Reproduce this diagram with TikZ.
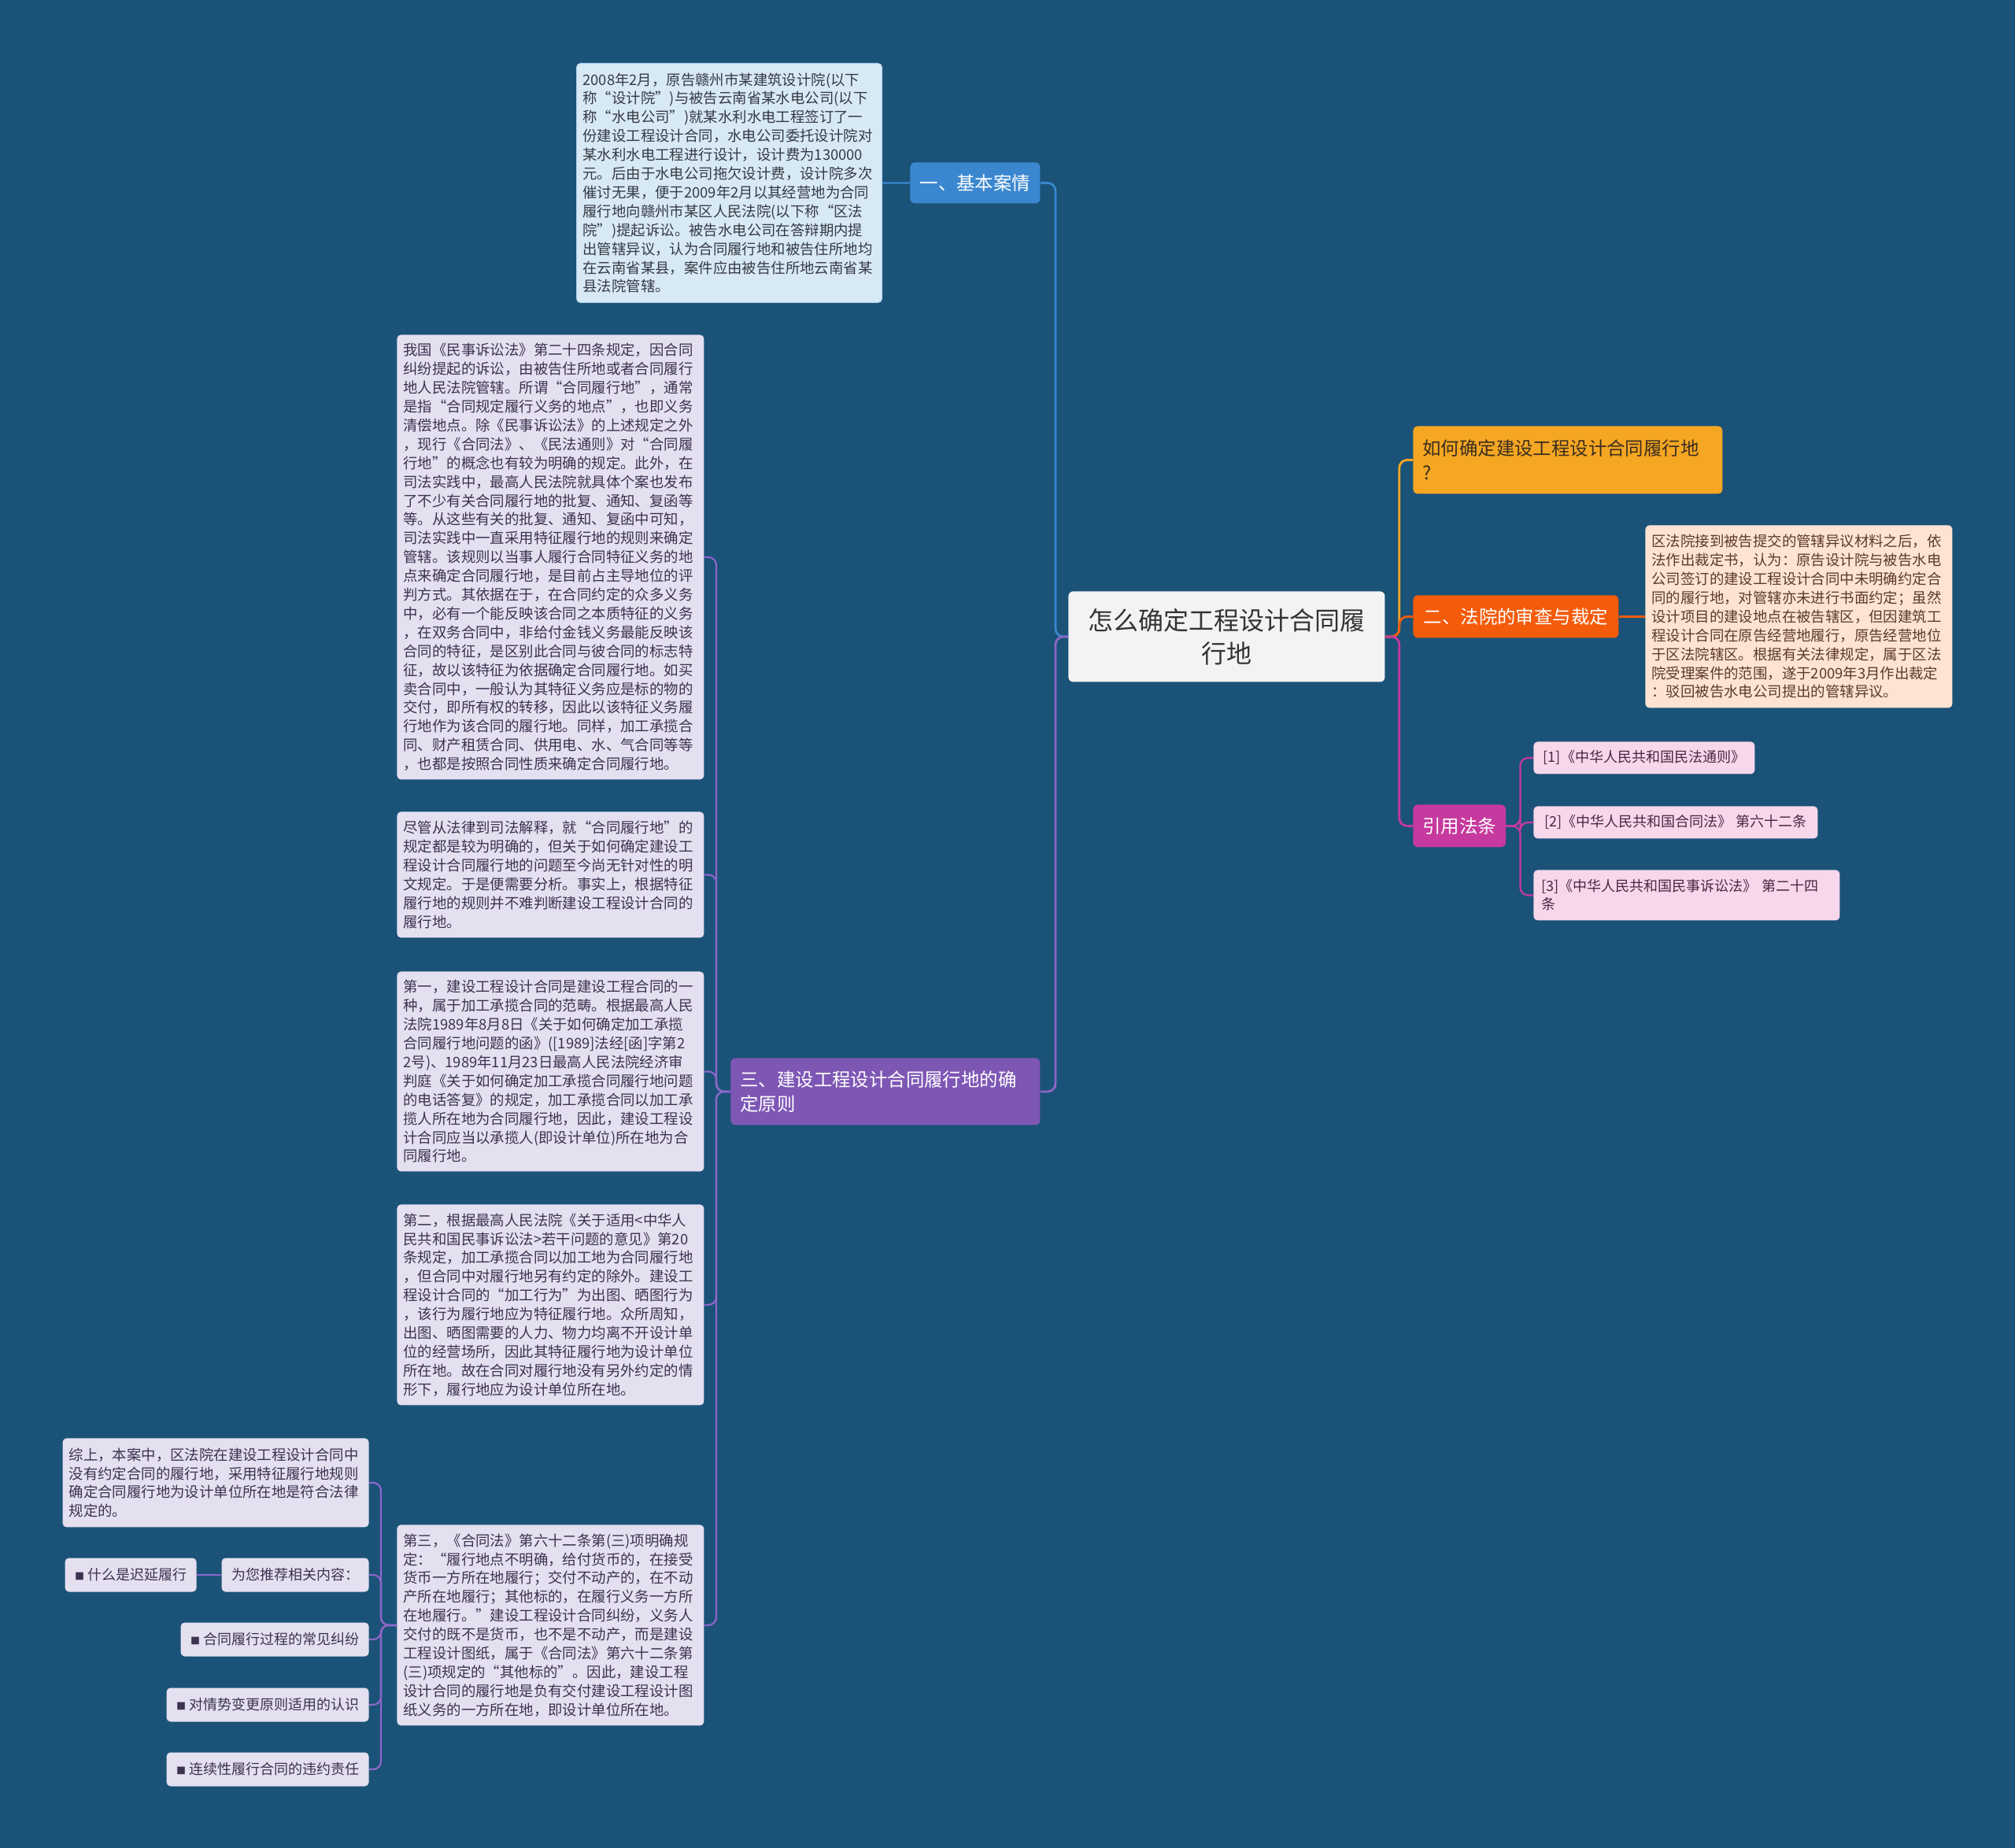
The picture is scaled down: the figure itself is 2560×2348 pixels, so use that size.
\documentclass[tikz,border=0pt]{standalone}
\usepackage{fontspec}
\setmainfont{Noto Sans CJK SC}
\usepackage{tikz}
\definecolor{bgblue}{RGB}{27,82,120}
\definecolor{casefill}{RGB}{216,233,246}
\definecolor{caseedge}{RGB}{169,205,235}
\definecolor{caseink}{RGB}{52,58,66}
\definecolor{bluebar}{RGB}{58,135,208}
\definecolor{rootfill}{RGB}{243,243,243}
\definecolor{rootink}{RGB}{51,51,51}
\definecolor{goldfill}{RGB}{245,166,35}
\definecolor{goldink}{RGB}{58,46,30}
\definecolor{redfill}{RGB}{244,91,11}
\definecolor{peachfill}{RGB}{253,227,212}
\definecolor{peachink}{RGB}{92,58,40}
\definecolor{lawfill}{RGB}{198,57,158}
\definecolor{pinkfill}{RGB}{246,215,236}
\definecolor{pinkink}{RGB}{74,40,64}
\definecolor{purfill}{RGB}{126,87,181}
\definecolor{lavfill}{RGB}{228,224,240}
\definecolor{lavink}{RGB}{59,51,79}
\definecolor{purline}{RGB}{140,103,200}

\begin{document}
\begin{tikzpicture}[x=0.5pt,y=-0.5pt,
    box/.style={anchor=north west,rounded corners=2.5pt,inner xsep=4pt,inner ysep=3pt,align=left,
        font=\fontsize{9.2}{11.95}\selectfont},
    topic/.style={anchor=north west,rounded corners=3pt,inner xsep=6pt,inner ysep=2pt,align=left,
        text=white,font=\fontsize{11.7}{15.5}\selectfont},
    tag/.style={rounded corners=2.5pt,inner xsep=5pt,inner ysep=0pt,align=left,
        font=\fontsize{9}{11.5}\selectfont},
    link/.style={line width=1.4pt,rounded corners=5pt},
    sublink/.style={line width=1.1pt,rounded corners=5pt}]

    \fill [bgblue] (0,0) rectangle (2560,2348);
    \useasboundingbox (0,0) rectangle (2560,2348);

    % centre
    \node [anchor=north west,fill=rootfill,text=rootink,rounded corners=3pt,align=center,
        minimum width=201pt,minimum height=57.5pt,font=\fontsize{16}{21}\selectfont]
        (root) at (1357,751) {怎么确定工程设计合同履\\行地};

    % branch one
    \node [topic,fill=bluebar,minimum width=82.5pt,minimum height=26pt] (c1) at (1156,206) {一、基本案情};
    \node [box,fill=casefill,draw=caseedge,line width=0.5pt,text=caseink,text width=186pt,minimum height=152pt]
        (case) at (732,80) {2008年2月，原告赣州市某建筑设计院(以下\\
称“设计院”)与被告云南省某水电公司(以下\\
称“水电公司”)就某水利水电工程签订了一\\
份建设工程设计合同，水电公司委托设计院对\\
某水利水电工程进行设计，设计费为130000\\
元。后由于水电公司拖欠设计费，设计院多次\\
催讨无果，便于2009年2月以其经营地为合同\\
履行地向赣州市某区人民法院(以下称“区法\\
院”)提起诉讼。被告水电公司在答辩期内提\\
出管辖异议，认为合同履行地和被告住所地均\\
在云南省某县，案件应由被告住所地云南省某\\
县法院管辖。};

    % right side
    \node [topic,fill=goldfill,text=goldink,text width=184.5pt,minimum height=43pt] (q1) at (1795,541)
        {如何确定建设工程设计合同履行地\\?};
    \node [topic,fill=redfill,minimum width=130.5pt,minimum height=27pt] (c2) at (1795,756) {二、法院的审查与裁定};
    \node [box,fill=peachfill,text=peachink,text width=187pt,minimum height=116pt] (ruling) at (2090,667)
        {区法院接到被告提交的管辖异议材料之后，依\\
法作出裁定书，认为：原告设计院与被告水电\\
公司签订的建设工程设计合同中未明确约定合\\
同的履行地，对管辖亦未进行书面约定；虽然\\
设计项目的建设地点在被告辖区，但因建筑工\\
程设计合同在原告经营地履行，原告经营地位\\
于区法院辖区。根据有关法律规定，属于区法\\
院受理案件的范围，遂于2009年3月作出裁定\\
：驳回被告水电公司提出的管辖异议。};
    \node [topic,fill=lawfill,minimum width=58.5pt,minimum height=27pt] (c4) at (1795,1022) {引用法条};
    \node [tag,anchor=north west,fill=pinkfill,text=pinkink,minimum width=140.5pt,minimum height=20.5pt]
        (law1) at (1948,942) {[1]《中华人民共和国民法通则》};
    \node [tag,anchor=north west,fill=pinkfill,text=pinkink,minimum width=180.5pt,minimum height=20.5pt]
        (law2) at (1948,1024) {[2]《中华人民共和国合同法》 第六十二条};
    \node [tag,anchor=north west,fill=pinkfill,text=pinkink,text width=184.5pt,minimum height=32pt]
        (law3) at (1948,1105) {[3]《中华人民共和国民事诉讼法》 第二十四\\条};

    % branch three
    \node [topic,fill=purfill,text width=184.5pt,minimum height=42.5pt] (c3) at (928,1344)
        {三、建设工程设计合同履行地的确\\定原则};
    \node [box,fill=lavfill,text=lavink,text width=187pt,minimum height=282.5pt] (t1) at (504,425)
        {我国《民事诉讼法》第二十四条规定，因合同\\
纠纷提起的诉讼，由被告住所地或者合同履行\\
地人民法院管辖。所谓“合同履行地”，通常\\
是指“合同规定履行义务的地点”，也即义务\\
清偿地点。除《民事诉讼法》的上述规定之外\\
，现行《合同法》、《民法通则》对“合同履\\
行地”的概念也有较为明确的规定。此外，在\\
司法实践中，最高人民法院就具体个案也发布\\
了不少有关合同履行地的批复、通知、复函等\\
等。从这些有关的批复、通知、复函中可知，\\
司法实践中一直采用特征履行地的规则来确定\\
管辖。该规则以当事人履行合同特征义务的地\\
点来确定合同履行地，是目前占主导地位的评\\
判方式。其依据在于，在合同约定的众多义务\\
中，必有一个能反映该合同之本质特征的义务\\
，在双务合同中，非给付金钱义务最能反映该\\
合同的特征，是区别此合同与彼合同的标志特\\
征，故以该特征为依据确定合同履行地。如买\\
卖合同中，一般认为其特征义务应是标的物的\\
交付，即所有权的转移，因此以该特征义务履\\
行地作为该合同的履行地。同样，加工承揽合\\
同、财产租赁合同、供用电、水、气合同等等\\
，也都是按照合同性质来确定合同履行地。};
    \node [box,fill=lavfill,text=lavink,text width=187pt,minimum height=80pt] (t2) at (504,1031)
        {尽管从法律到司法解释，就“合同履行地”的\\
规定都是较为明确的，但关于如何确定建设工\\
程设计合同履行地的问题至今尚无针对性的明\\
文规定。于是便需要分析。事实上，根据特征\\
履行地的规则并不难判断建设工程设计合同的\\
履行地。};
    \node [box,fill=lavfill,text=lavink,text width=187pt,minimum height=127pt] (t3) at (504,1234)
        {第一，建设工程设计合同是建设工程合同的一\\
种，属于加工承揽合同的范畴。根据最高人民\\
法院1989年8月8日《关于如何确定加工承揽\\
合同履行地问题的函》([1989]法经[函]字第2\\
2号)、1989年11月23日最高人民法院经济审\\
判庭《关于如何确定加工承揽合同履行地问题\\
的电话答复》的规定，加工承揽合同以加工承\\
揽人所在地为合同履行地，因此，建设工程设\\
计合同应当以承揽人(即设计单位)所在地为合\\
同履行地。};
    \node [box,fill=lavfill,text=lavink,text width=187pt,minimum height=127.5pt] (t4) at (504,1530)
        {第二，根据最高人民法院《关于适用<中华人\\
民共和国民事诉讼法>若干问题的意见》第20\\
条规定，加工承揽合同以加工地为合同履行地\\
，但合同中对履行地另有约定的除外。建设工\\
程设计合同的“加工行为”为出图、晒图行为\\
，该行为履行地应为特征履行地。众所周知，\\
出图、晒图需要的人力、物力均离不开设计单\\
位的经营场所，因此其特征履行地为设计单位\\
所在地。故在合同对履行地没有另外约定的情\\
形下，履行地应为设计单位所在地。};
    \node [box,fill=lavfill,text=lavink,text width=187pt,minimum height=127.5pt] (t5) at (504,1937)
        {第三，《合同法》第六十二条第(三)项明确规\\
定：“履行地点不明确，给付货币的，在接受\\
货币一方所在地履行；交付不动产的，在不动\\
产所在地履行；其他标的，在履行义务一方所\\
在地履行。”建设工程设计合同纠纷，义务人\\
交付的既不是货币，也不是不动产，而是建设\\
工程设计图纸，属于《合同法》第六十二条第\\
(三)项规定的“其他标的”。因此，建设工程\\
设计合同的履行地是负有交付建设工程设计图\\
纸义务的一方所在地，即设计单位所在地。};

    % left of the third point
    \node [box,anchor=north east,fill=lavfill,text=lavink,text width=186.5pt,minimum height=56.5pt] (s1) at (469,1827)
        {综上，本案中，区法院在建设工程设计合同中\\
没有约定合同的履行地，采用特征履行地规则\\
确定合同履行地为设计单位所在地是符合法律\\
规定的。};
    \node [tag,anchor=east,fill=lavfill,text=lavink,minimum width=93.5pt,minimum height=21.5pt] (s2) at (469,2001) {为您推荐相关内容：};
    \node [tag,anchor=east,fill=lavfill,text=lavink,minimum width=83.5pt,minimum height=21.5pt] (s0) at (250,2001)
        {{\fontsize{6}{6}\selectfont ■} 什么是迟延履行};
    \node [tag,anchor=east,fill=lavfill,text=lavink,minimum width=119.5pt,minimum height=21.5pt] (s3) at (469,2083)
        {{\fontsize{6}{6}\selectfont ■} 合同履行过程的常见纠纷};
    \node [tag,anchor=east,fill=lavfill,text=lavink,minimum width=128.5pt,minimum height=21.5pt] (s4) at (469,2166)
        {{\fontsize{6}{6}\selectfont ■} 对情势变更原则适用的认识};
    \node [tag,anchor=east,fill=lavfill,text=lavink,minimum width=128.5pt,minimum height=21.5pt] (s5) at (469,2248)
        {{\fontsize{6}{6}\selectfont ■} 连续性履行合同的违约责任};

    % connectors
    \draw [link,bluebar] (root.west) -- ++(-16,0) |- (c1.east);
    \draw [sublink,bluebar] (c1.west) -- (case.east);
    \draw [link,purline] (root.west) -- ++(-16,0) |- (c3.east);
    \draw [link,goldfill] (root.east) -- ++(18,0) |- (q1.west);
    \draw [link,redfill] (root.east) -- ++(18,0) |- (c2.west);
    \draw [sublink,redfill] (c2.east) -- (ruling.west);
    \draw [link,lawfill] (root.east) -- ++(18,0) |- (c4.west);
    \foreach \n in {1,2,3}{
        \draw [sublink,lawfill] (c4.east) -- ++(18,0) |- (law\n.west);
    }
    \foreach \n in {1,...,5}{
        \draw [sublink,purline] (c3.west) -- ++(-18,0) |- (t\n.east);
        \draw [sublink,purline] (t5.west) -- ++(-20,0) |- (s\n.east);
    }
    \draw [sublink,purline] (s2.west) -- (s0.east);
\end{tikzpicture}
\end{document}
